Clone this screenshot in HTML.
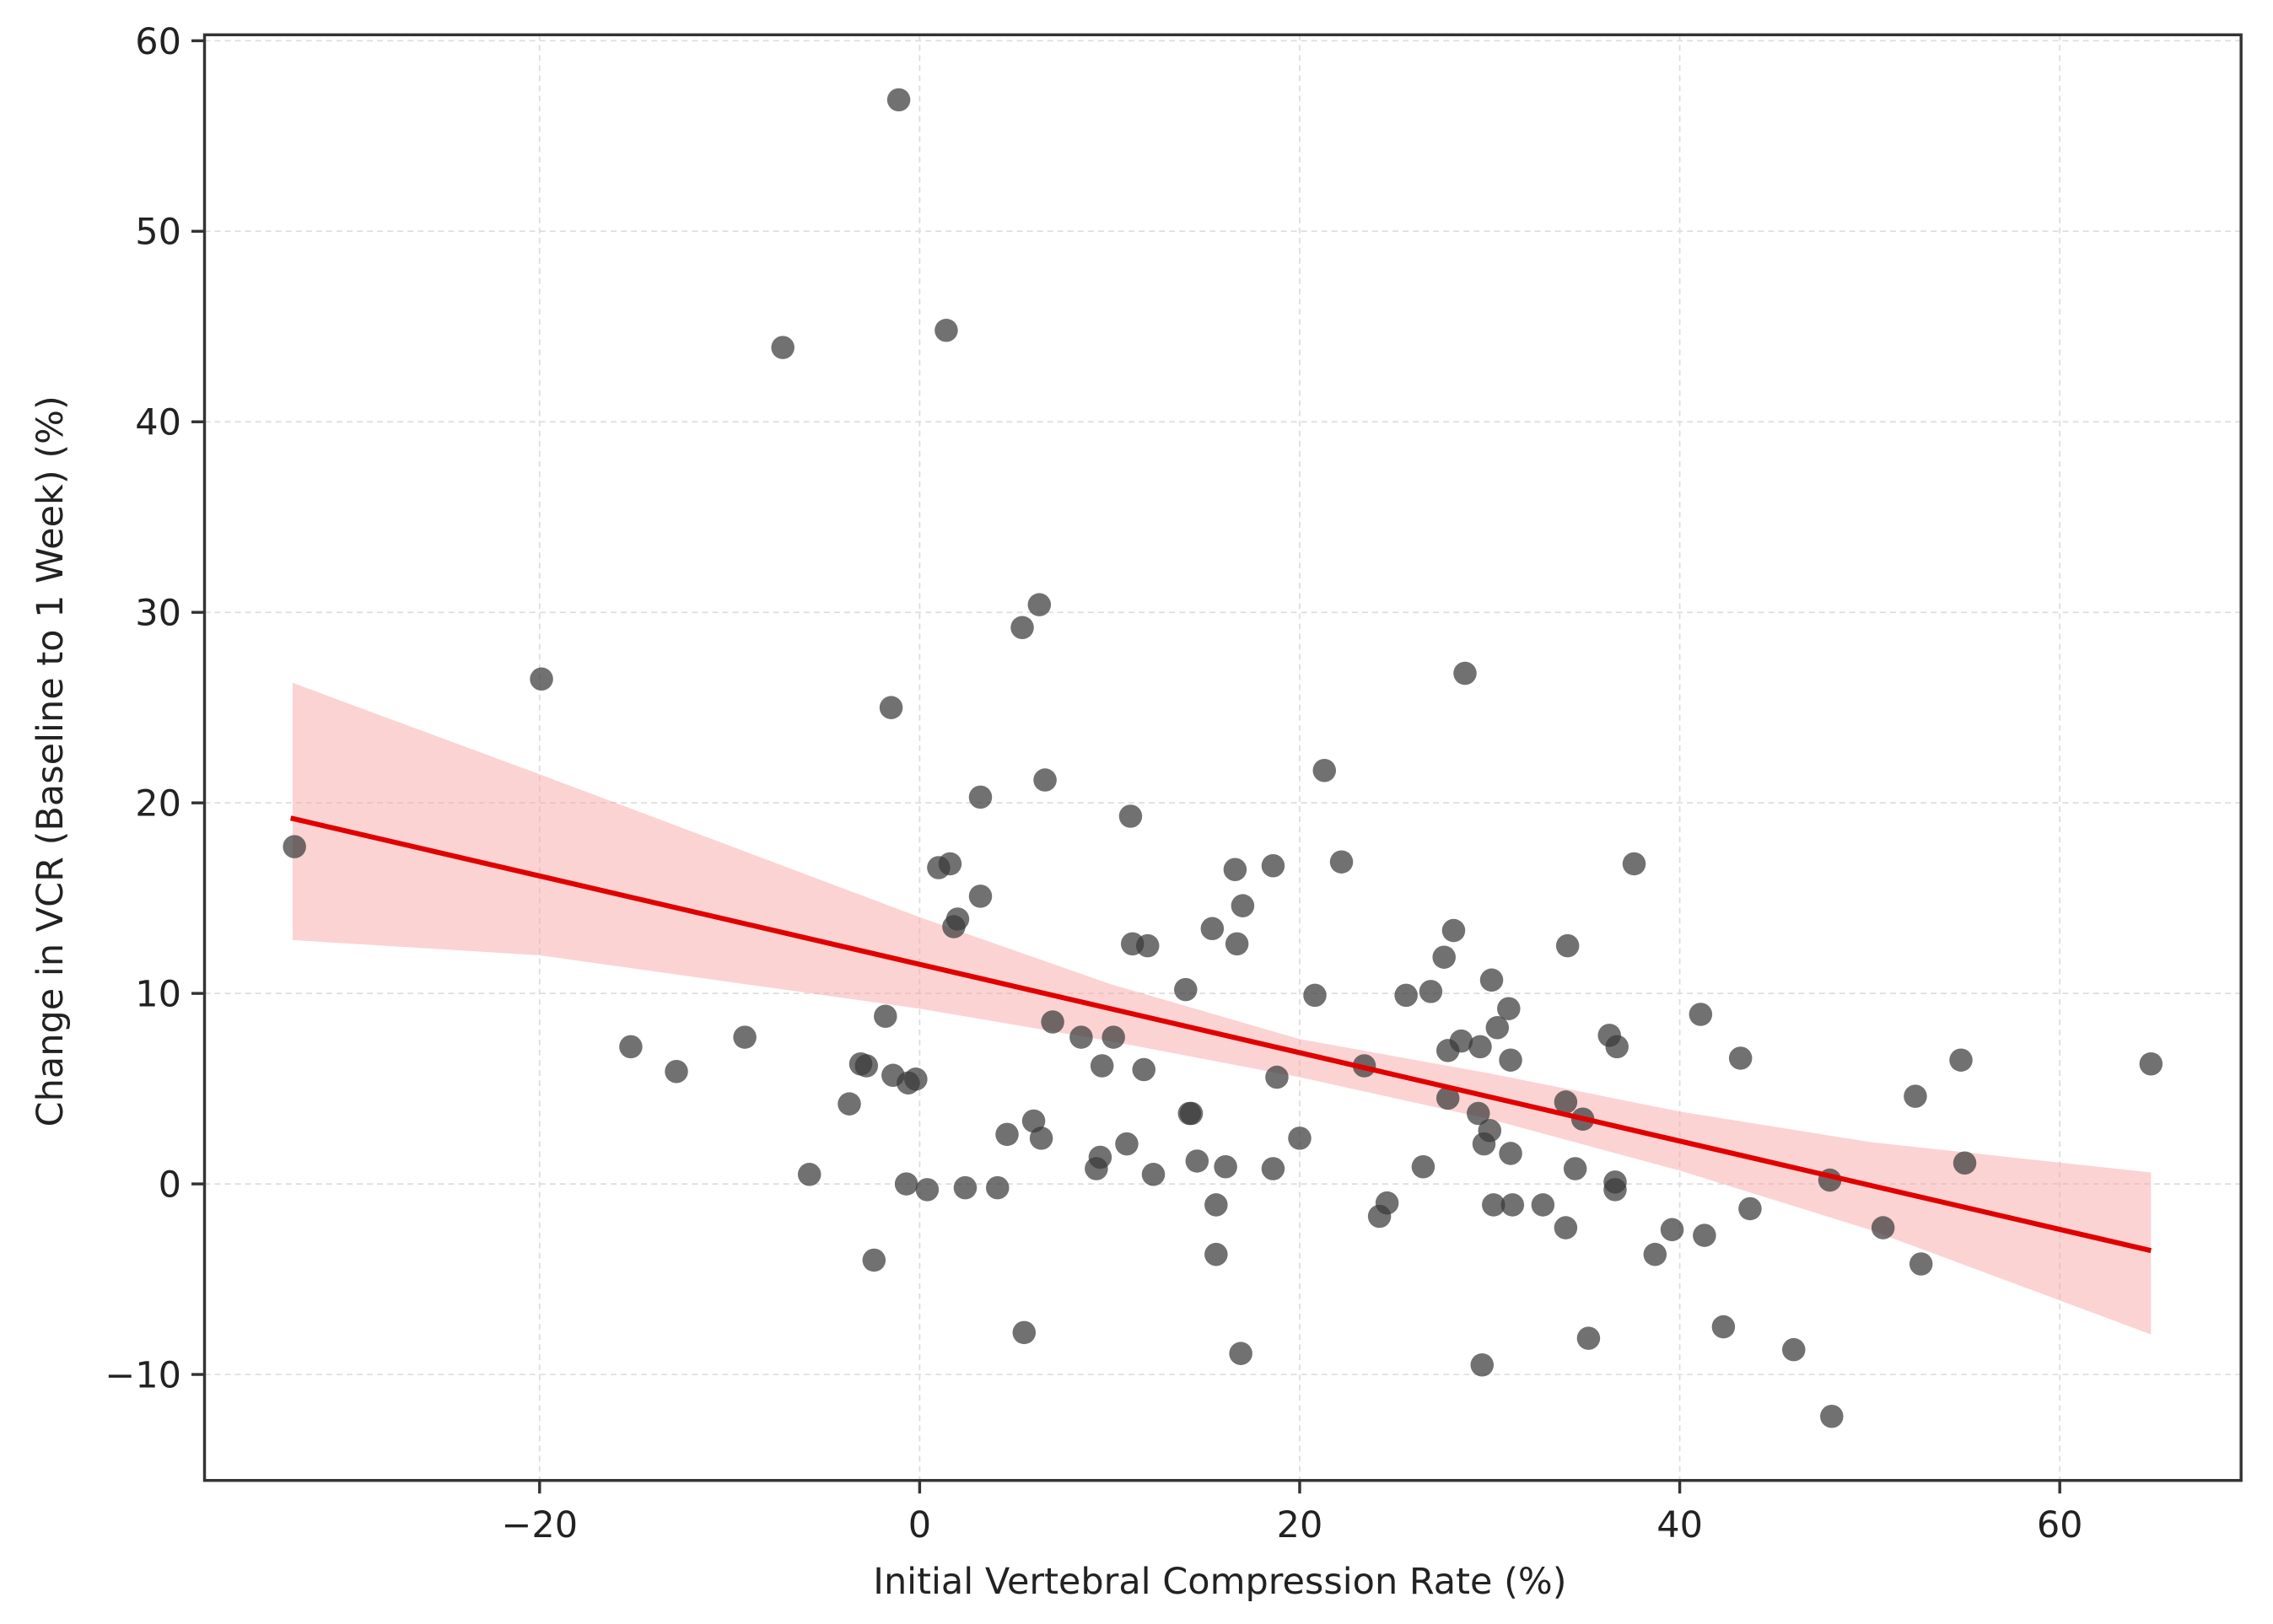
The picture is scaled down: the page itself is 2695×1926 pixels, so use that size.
<!DOCTYPE html>
<html><head><meta charset="utf-8"><style>html,body{margin:0;padding:0;background:#fff}svg{display:block}text{font-family:"DejaVu Sans","Liberation Sans",sans-serif;fill:#222}</style></head>
<body>
<svg id="chart" width="2695" height="1926" viewBox="0 0 1567 1120" preserveAspectRatio="none" xmlns="http://www.w3.org/2000/svg">
<g id="grid"></g>
<g id="band"></g>
<g id="pts"></g>
<g id="reg"></g>
<rect x="141" y="24" width="1404" height="997" fill="none" stroke="#333" stroke-width="2"/>
<g id="axes"></g>
<text x="841" y="1099" font-size="25" text-anchor="middle">Initial Vertebral Compression Rate (%)</text>
<text transform="translate(43,525) rotate(-90)" font-size="25" text-anchor="middle">Change in VCR (Baseline to 1 Week) (%)</text>
</svg>
<script>
const xTicks=[-20,0,20,40,60];
const yTicks=[-10,0,10,20,30,40,50,60];
const xVals=[-32.9,-19.9,-15.2,-12.8,-9.2,-7.2,-5.8,-3.7,-3.1,-2.8,-2.4,-1.8,-1.5,-1.4,-1.1,-0.7,-0.6,-0.2,0.4,1.0,1.4,1.6,1.8,2.0,2.4,3.2,3.2,4.1,4.6,5.4,5.5,6.0,6.3,6.4,6.6,7.0,8.5,9.3,9.5,9.6,10.2,10.9,11.1,11.2,11.8,12.0,12.3,14.0,14.2,14.3,14.6,15.4,15.6,15.6,16.1,16.6,16.7,16.9,17.0,18.6,18.6,18.8,20.0,20.8,21.3,22.2,23.4,24.2,24.6,25.6,26.5,26.9,27.6,27.8,27.8,28.1,28.5,28.7,29.4,29.5,29.6,29.7,30.0,30.1,30.2,30.4,31.0,31.1,31.2,31.1,32.8,34.0,34.0,34.1,34.5,34.9,35.2,36.3,36.6,36.6,36.7,37.6,38.7,39.6,41.1,41.3,42.3,43.2,43.7,46.0,47.9,48.0,50.7,52.4,52.7,54.8,55.0,64.8];
const yVals=[17.7,26.5,7.2,5.9,7.7,43.9,0.5,4.2,6.3,6.2,-4.0,8.8,25.0,5.7,56.9,0.0,5.3,5.5,-0.3,16.6,44.8,16.8,13.5,13.9,-0.2,20.3,15.1,-0.2,2.6,29.2,-7.8,3.3,30.4,2.4,21.2,8.5,7.7,0.8,1.4,6.2,7.7,2.1,19.3,12.6,6.0,12.5,0.5,10.2,3.7,3.7,1.2,13.4,-1.1,-3.7,0.9,16.5,12.6,-8.9,14.6,0.8,16.7,5.6,2.4,9.9,21.7,16.9,6.2,-1.7,-1.0,9.9,0.9,10.1,11.9,7.0,4.5,13.3,7.5,26.8,3.7,7.2,-9.5,2.1,2.8,10.7,-1.1,8.2,9.2,6.5,-1.1,1.6,-1.1,-2.3,4.3,12.5,0.8,3.4,-8.1,7.8,0.1,-0.3,7.2,16.8,-3.7,-2.4,8.9,-2.7,-7.5,6.6,-1.3,-8.7,0.2,-12.2,-2.3,4.6,-4.2,6.5,1.1,6.3];
const lineX=[-33.1,64.8];
const lineY=[19.2,-3.5];
const ciX=[-33,-20,0,10,20,30,40,50,64.8];
const ciUpper=[26.3,21.5,14.0,10.5,7.6,5.8,3.8,2.2,0.6];
const ciLower=[12.8,12.0,9.2,7.5,5.6,3.4,0.7,-2.4,-7.9];
const X=v=>634+v*13.1, Y=v=>816.5-v*13.14;
const NS="http://www.w3.org/2000/svg";
function mk(t,a,p){const e=document.createElementNS(NS,t);for(const k in a)e.setAttribute(k,a[k]);p.appendChild(e);return e;}
const grid=document.getElementById('grid'),axes=document.getElementById('axes');
xTicks.forEach(t=>{
 const g=mk('line',{x1:X(t),x2:X(t),y1:24,y2:1021,stroke:'#ddd','stroke-width':1,'stroke-dasharray':'4,3'},grid);
 
 
 const tk=mk('line',{x1:X(t),x2:X(t),y1:1021,y2:1030,stroke:'#333','stroke-width':2},axes);
 
 
 const tx=mk('text',{x:X(t),y:1060,'font-size':25,'text-anchor':'middle'},axes);
 tx.textContent=t<0?'\u2212'+(-t):t;
 
 
});
yTicks.forEach(t=>{
 const g=mk('line',{x1:141,x2:1545,y1:Y(t),y2:Y(t),stroke:'#ddd','stroke-width':1,'stroke-dasharray':'4,3'},grid);
 
 
 const tk=mk('line',{x1:132,x2:141,y1:Y(t),y2:Y(t),stroke:'#333','stroke-width':2},axes);
 
 
 const tx=mk('text',{x:125,y:Y(t)+9,'font-size':25,'text-anchor':'end'},axes);
 tx.textContent=t<0?'\u2212'+(-t):t;
 
 
});
let d='M'+ciX.map((x,i)=>X(x)+','+Y(ciUpper[i])).join('L');
for(let i=ciX.length-1;i>=0;i--)d+='L'+X(ciX[i])+','+Y(ciLower[i]);
const band=mk('path',{d:d+'Z',fill:'#f7a8a8','fill-opacity':0.5},document.getElementById('band'));


const pts=document.getElementById('pts');
xVals.forEach((x,i)=>{
 const c=mk('circle',{cx:X(x),cy:Y(yVals[i]),r:8,fill:'#3a3a3a','fill-opacity':0.72},pts);
 
 
});
const ln=mk('line',{x1:X(lineX[0]),y1:Y(lineY[0]),x2:X(lineX[1]),y2:Y(lineY[1]),stroke:'#e00000','stroke-width':3.5},document.getElementById('reg'));


</script>
</body></html>
